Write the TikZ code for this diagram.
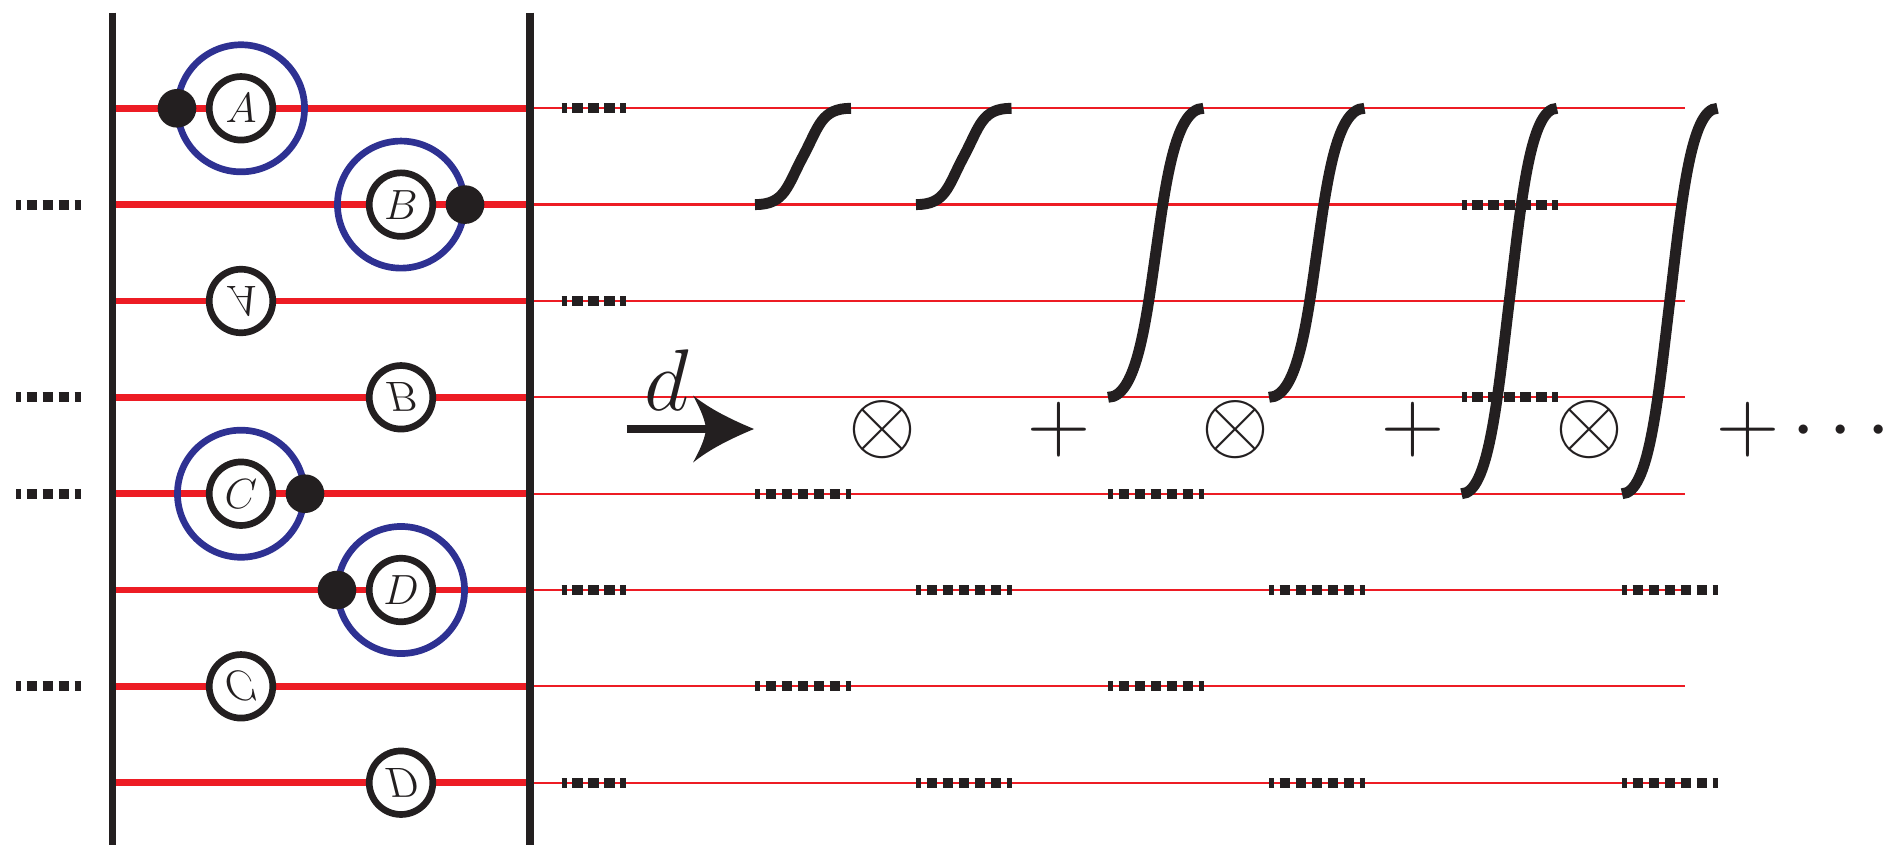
\documentclass[tikz,border=0pt]{standalone}
\usepackage{graphicx}
\definecolor{lred}{RGB}{237,28,36}
\definecolor{lblue}{RGB}{46,49,146}
\definecolor{lblack}{RGB}{35,31,32}
\newcommand{\flipv}[1]{\scalebox{1}[-1]{#1}}
\begin{document}
\begin{tikzpicture}[x=0.01cm,y=-0.01cm,
  wall/.style={draw=lblack,line width=2pt},
  thickred/.style={draw=lred,line width=1.9pt},
  thinred/.style={draw=lred,line width=0.65pt},
  letter/.style={circle,draw=lblack,line width=1.9pt,fill=white,minimum size=0.635cm,inner sep=0pt,text=lblack,font=\fontsize{12}{14}\selectfont},
  ring/.style={circle,draw=lblue,line width=1.9pt,minimum size=1.27cm,inner sep=0pt},
  blob/.style={circle,fill=lblack,minimum size=0.386cm,inner sep=0pt},
  dashbar/.style={draw=lblack,line width=2.85pt,dash pattern=on 3.04pt off 1.51pt,dash phase=1.51pt},
  scurve/.style={draw=lblack,line width=3.1pt},
  mathbig/.style={inner sep=0pt,anchor=base,text=lblack,font=\fontsize{24}{28}\selectfont},
]
\useasboundingbox (0,0) rectangle (1889,845);

% rows
\foreach \i/\y in {1/108.3,2/204.6,3/301.0,4/397.3,5/493.7,6/590.0,7/686.3,8/782.7}{
  \coordinate (L\i) at (112.5,\y);
  \coordinate (M\i) at (530,\y);
  \coordinate (E\i) at (1685,\y);
}
\foreach \i in {1,...,8}{
  \draw[thickred] (L\i) -- (M\i);
  \draw[thinred] (M\i) -- (E\i);
}

% walls
\coordinate (WLt) at (112.5,12.7);
\coordinate (WLb) at (112.5,845);
\coordinate (WRt) at (530,12.7);
\coordinate (WRb) at (530,845);
\draw[wall] (WLt) -- (WLb);
\draw[wall] (WRt) -- (WRb);

% left dash bars
\foreach \y in {204.6,397.3,493.7,686.3}{
  \draw[dashbar] (16,\y) -- (80.5,\y);
}

% circles inside the box
\node[ring] (rA) at (241,108.3) {};
\node[letter] (A) at (241,108.3) {$A$};
\node[blob] (dA) at (177,108.3) {};

\node[ring] (rB) at (401,204.6) {};
\node[letter] (B) at (401,204.6) {$B$};
\node[blob] (dB) at (465,204.6) {};

\node[letter] (Af) at (241,301.0) {\flipv{$A$}};
\node[letter] (Bf) at (401,397.3) {\flipv{$B$}};

\node[ring] (rC) at (241,493.7) {};
\node[letter] (C) at (241,493.7) {$C$};
\node[blob] (dC) at (305,493.7) {};

\node[ring] (rD) at (401,590.0) {};
\node[letter] (D) at (401,590.0) {$D$};
\node[blob] (dD) at (337,590.0) {};

\node[letter] (Cf) at (241,686.3) {\flipv{$C$}};
\node[letter] (Df) at (401,782.7) {\flipv{$D$}};

% short dash bars right of the box
\foreach \y in {108.3,301.0,590.0,782.7}{
  \draw[dashbar] (561.5,\y) -- (626,\y);
}
% long dash bars
\foreach \x in {755,1108}{
  \draw[dashbar] (\x,493.7) -- ++(96,0);
  \draw[dashbar] (\x,686.3) -- ++(96,0);
}
\foreach \x in {916,1269,1622}{
  \draw[dashbar] (\x,590.0) -- ++(96,0);
  \draw[dashbar] (\x,782.7) -- ++(96,0);
}
\draw[dashbar] (1461.5,204.6) -- ++(96,0);
\draw[dashbar] (1461.5,397.3) -- ++(96,0);

% small S curves
\draw[scurve] (755,204.6) .. controls +(30,0) and +(-16,30) .. (803,156.45)
  .. controls +(16,-30) and +(-30,0) .. (851,108.3);
\draw[scurve] (916,204.6) .. controls +(30,0) and +(-16,30) .. (963.75,156.45)
  .. controls +(16,-30) and +(-30,0) .. (1011.5,108.3);
% big S curves
\draw[scurve] (1108,397.3) .. controls +(29,0) and +(-9.5,66) .. (1155.75,252.8)
  .. controls +(9.5,-66) and +(-29,0) .. (1203.5,108.3);
\draw[scurve] (1269,397.3) .. controls +(29,0) and +(-9.5,66) .. (1316.75,252.8)
  .. controls +(9.5,-66) and +(-29,0) .. (1364.5,108.3);
% bigger S curves
\draw[scurve] (1461.5,493.7) .. controls +(27,0) and +(-12,100) .. (1509.25,301)
  .. controls +(12,-100) and +(-27,0) .. (1557,108.3);
\draw[scurve] (1622,493.7) .. controls +(27,0) and +(-12,100) .. (1669.75,301)
  .. controls +(12,-100) and +(-27,0) .. (1717.5,108.3);

% arrow d
\coordinate (arS) at (626.7,429);
\coordinate (arE) at (708,429);
\draw[lblack,line width=2.3pt] (arS) -- (arE);
\fill[lblack] (754,429) .. controls (730,419) and (710,409) .. (693,395.5)
  .. controls (701,410) and (705,420) .. (706,429)
  .. controls (705,438) and (701,448) .. (693,462.5)
  .. controls (710,449) and (730,439) .. cycle;
\node[mathbig] (dlab) at (667,410) {$d$};

% formula
\node[mathbig] (o1) at (883,451) {$\otimes$};
\node[mathbig] (p1) at (1059,451) {$+$};
\node[mathbig] (o2) at (1236,451) {$\otimes$};
\node[mathbig] (p2) at (1413,451) {$+$};
\node[mathbig] (o3) at (1589,451) {$\otimes$};
\node[mathbig] (p3) at (1748,451) {$+$};
\node[mathbig] (dots) at (1841,451) {${\cdot}\kern0.13cm{\cdot}\kern0.13cm{\cdot}$};
\end{tikzpicture}
\end{document}
